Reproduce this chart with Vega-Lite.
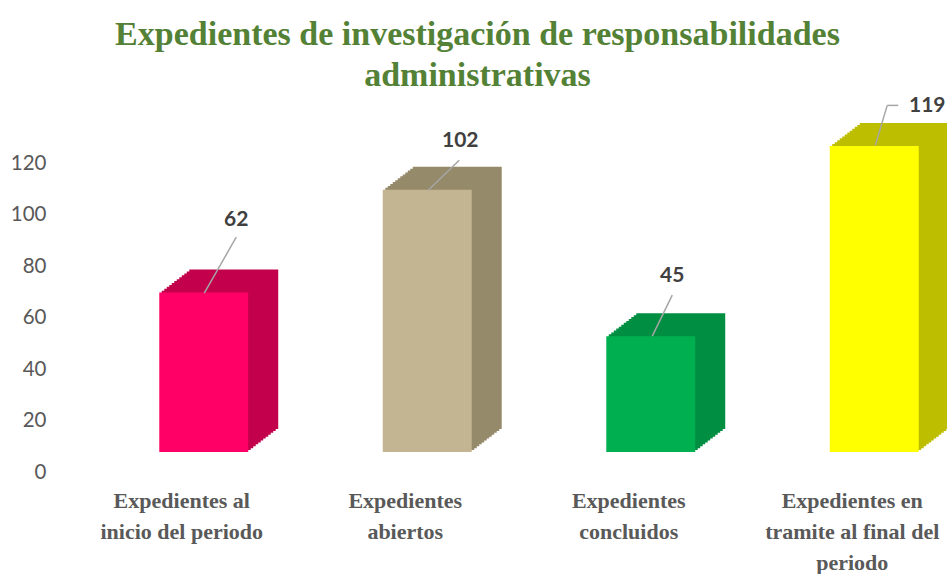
{
  "$schema": "https://vega.github.io/schema/vega-lite/v6.json",
  "autosize": {"type": "none"},
  "width": 877,
  "height": 360,
  "padding": {"left": 70, "top": 112, "right": 0, "bottom": 102},
  "background": "white",
  "config": {"view": {"stroke": null}},
  "title": {
    "text": ["Expedientes de investigación de responsabilidades", "administrativas"],
    "font": "Liberation Serif",
    "fontSize": 34,
    "fontWeight": "bold",
    "color": "#538135",
    "lineHeight": 41,
    "anchor": "middle",
    "dx": -31,
    "offset": 2
  },
  "data": {
    "values": [
      {"cat": "Expedientes al inicio del periodo", "value": 62},
      {"cat": "Expedientes abiertos", "value": 102},
      {"cat": "Expedientes concluidos", "value": 45},
      {"cat": "Expedientes en tramite al final del periodo", "value": 119}
    ]
  },
  "encoding": {
    "x": {
      "field": "cat",
      "type": "nominal",
      "sort": null,
      "scale": {"range": [0, 894], "paddingInner": 0.602, "paddingOuter": 0.301},
      "axis": {
        "title": null,
        "domain": false,
        "ticks": false,
        "grid": false,
        "labelAngle": 0,
        "labelFont": "Liberation Serif",
        "labelFontWeight": "bold",
        "labelFontSize": 22,
        "labelColor": "#595959",
        "labelLineHeight": 31,
        "labelPadding": 18,
        "labelOverlap": false,
        "labelBound": false,
        "labelFlush": false,
        "labelLimit": 0,
        "labelExpr": "datum.label == 'Expedientes al inicio del periodo' ? ['Expedientes al', 'inicio del periodo'] : datum.label == 'Expedientes abiertos' ? ['Expedientes', 'abiertos'] : datum.label == 'Expedientes concluidos' ? ['Expedientes', 'concluidos'] : ['Expedientes en', 'tramite al final del', 'periodo']"
      }
    },
    "y": {
      "field": "value",
      "type": "quantitative",
      "scale": {"domain": [0, 140], "nice": false},
      "axis": {
        "title": null,
        "values": [0, 20, 40, 60, 80, 100, 120],
        "domain": false,
        "ticks": false,
        "grid": false,
        "labelFont": "Lato",
        "labelFontSize": 20.5,
        "labelColor": "#595959",
        "labelPadding": 24
      }
    }
  },
  "layer": [
    {"mark": {"type": "bar", "xOffset": 52, "yOffset": -43, "y2Offset": -43}, "encoding": {"fill": {"field": "cat", "type": "nominal", "sort": null, "legend": null, "scale": {"range": ["#C3004B", "#958A6A", "#008F42", "#BEBE00"]}}}},
    {"mark": {"type": "bar", "xOffset": 49.5, "yOffset": -41.08, "y2Offset": -41.08}, "encoding": {"fill": {"field": "cat", "type": "nominal", "sort": null, "legend": null}}},
    {"mark": {"type": "bar", "xOffset": 47, "yOffset": -39.17, "y2Offset": -39.17}, "encoding": {"fill": {"field": "cat", "type": "nominal", "sort": null, "legend": null}}},
    {"mark": {"type": "bar", "xOffset": 44.5, "yOffset": -37.25, "y2Offset": -37.25}, "encoding": {"fill": {"field": "cat", "type": "nominal", "sort": null, "legend": null}}},
    {"mark": {"type": "bar", "xOffset": 42, "yOffset": -35.33, "y2Offset": -35.33}, "encoding": {"fill": {"field": "cat", "type": "nominal", "sort": null, "legend": null}}},
    {"mark": {"type": "bar", "xOffset": 39.5, "yOffset": -33.42, "y2Offset": -33.42}, "encoding": {"fill": {"field": "cat", "type": "nominal", "sort": null, "legend": null}}},
    {"mark": {"type": "bar", "xOffset": 37, "yOffset": -31.5, "y2Offset": -31.5}, "encoding": {"fill": {"field": "cat", "type": "nominal", "sort": null, "legend": null}}},
    {"mark": {"type": "bar", "xOffset": 34.5, "yOffset": -29.58, "y2Offset": -29.58}, "encoding": {"fill": {"field": "cat", "type": "nominal", "sort": null, "legend": null}}},
    {"mark": {"type": "bar", "xOffset": 32, "yOffset": -27.67, "y2Offset": -27.67}, "encoding": {"fill": {"field": "cat", "type": "nominal", "sort": null, "legend": null}}},
    {"mark": {"type": "bar", "xOffset": 29.5, "yOffset": -25.75, "y2Offset": -25.75}, "encoding": {"fill": {"field": "cat", "type": "nominal", "sort": null, "legend": null}}},
    {"mark": {"type": "bar", "xOffset": 27, "yOffset": -23.83, "y2Offset": -23.83}, "encoding": {"fill": {"field": "cat", "type": "nominal", "sort": null, "legend": null}}},
    {"mark": {"type": "bar", "xOffset": 24.5, "yOffset": -21.92, "y2Offset": -21.92}, "encoding": {"fill": {"field": "cat", "type": "nominal", "sort": null, "legend": null}}},
    {"mark": {"type": "bar", "xOffset": 22, "yOffset": -20, "y2Offset": -20}, "encoding": {"color": {"field": "cat", "type": "nominal", "sort": null, "legend": null, "scale": {"range": ["#FF0066", "#C4B592", "#00B050", "#FFFF00"]}}}},
    {"transform": [{"filter": "datum.value == 62"}], "mark": {"type": "rule", "color": "#A6A6A6", "strokeWidth": 1.5, "xOffset": 54.5, "yOffset": -75.4, "x2Offset": 22.5, "y2Offset": -19.4}, "encoding": {"x2": {"field": "cat"}, "y2": {"field": "value"}}},
    {"transform": [{"filter": "datum.value == 102"}], "mark": {"type": "rule", "color": "#A6A6A6", "strokeWidth": 1.5, "xOffset": 54, "yOffset": -49.4, "x2Offset": 23, "y2Offset": -19.4}, "encoding": {"x2": {"field": "cat"}, "y2": {"field": "value"}}},
    {"transform": [{"filter": "datum.value == 45"}], "mark": {"type": "rule", "color": "#A6A6A6", "strokeWidth": 1.5, "xOffset": 43.5, "yOffset": -61.1, "x2Offset": 23.5, "y2Offset": -20.1}, "encoding": {"x2": {"field": "cat"}, "y2": {"field": "value"}}},
    {"transform": [{"filter": "datum.value == 119"}], "mark": {"type": "rule", "color": "#A6A6A6", "strokeWidth": 1.5, "xOffset": 46, "yOffset": -60.6, "x2Offset": 35, "y2Offset": -60.6}, "encoding": {"x2": {"field": "cat"}, "y2": {"field": "value"}}},
    {"transform": [{"filter": "datum.value == 119"}], "mark": {"type": "rule", "color": "#A6A6A6", "strokeWidth": 1.5, "xOffset": 35, "yOffset": -60.6, "x2Offset": 23, "y2Offset": -20.6}, "encoding": {"x2": {"field": "cat"}, "y2": {"field": "value"}}},
    {"transform": [{"filter": "datum.value == 62"}], "mark": {"type": "text", "font": "Lato", "fontWeight": "bold", "fontSize": 21, "color": "#404040", "dx": 54.5, "dy": -92.4, "baseline": "middle"}, "encoding": {"text": {"field": "value", "type": "quantitative"}}},
    {"transform": [{"filter": "datum.value == 102"}], "mark": {"type": "text", "font": "Lato", "fontWeight": "bold", "fontSize": 21, "color": "#404040", "dx": 55, "dy": -68.4, "baseline": "middle"}, "encoding": {"text": {"field": "value", "type": "quantitative"}}},
    {"transform": [{"filter": "datum.value == 45"}], "mark": {"type": "text", "font": "Lato", "fontWeight": "bold", "fontSize": 21, "color": "#404040", "dx": 43.5, "dy": -80.1, "baseline": "middle"}, "encoding": {"text": {"field": "value", "type": "quantitative"}}},
    {"transform": [{"filter": "datum.value == 119"}], "mark": {"type": "text", "font": "Lato", "fontWeight": "bold", "fontSize": 21, "color": "#404040", "dx": 75, "dy": -59.6, "baseline": "middle"}, "encoding": {"text": {"field": "value", "type": "quantitative"}}}
  ]
}
